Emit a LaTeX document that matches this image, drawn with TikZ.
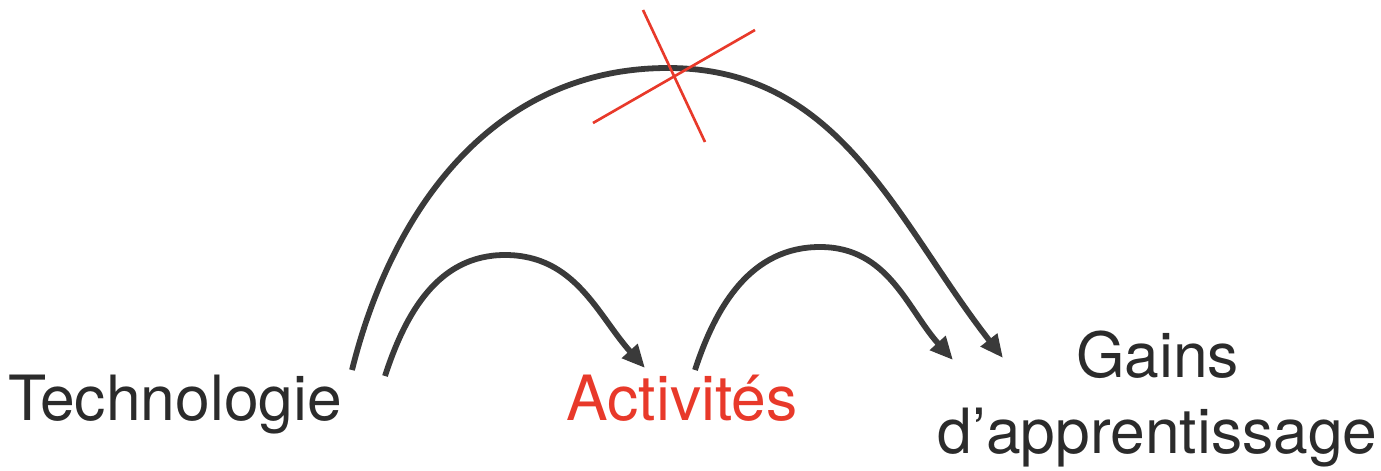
\documentclass[tikz,border=0pt]{standalone}
\usepackage{fontspec}
\setmainfont{TeX Gyre Heros}
\usepackage{tikz}
\usetikzlibrary{arrows.meta, positioning, calc}

\definecolor{arcgray}{HTML}{3A3A3A}
\definecolor{textgray}{HTML}{2B2B2B}
\definecolor{crossred}{HTML}{E8392A}

\begin{document}
\begin{tikzpicture}[
    label/.style={inner sep=0pt, anchor=base, text=textgray, font=\fontsize{35.5}{43}\selectfont},
    arc/.style={line width=3.3pt, draw=arcgray, -{Triangle[length=0.46cm, width=0.40cm]}},
    cross/.style={line width=1.5pt, draw=crossred}
  ]
    \useasboundingbox (0,0) rectangle (27.62,9.4);

    % texts
    \node[label] (tech) at (3.5,1.0) {Technologie};
    \node[label, text=crossred] (act) at (13.64,1.0) {Activités};
    \node[label, align=center] (gains) at (23.15,0.34) {Gains\\d’apprentissage};

    % arc end points
    \coordinate (bigstart) at (7.04,2.0);
    \coordinate (bigtop) at (13.36,8.04);
    \coordinate (bigend) at (20.06,2.24);
    \coordinate (onestart) at (7.70,1.88);
    \coordinate (onetop) at (10.10,4.30);
    \coordinate (oneend) at (12.90,2.04);
    \coordinate (twostart) at (13.90,2.0);
    \coordinate (twotop) at (16.40,4.46);
    \coordinate (twoend) at (19.06,2.2);

    % Arrows
    \draw[arc] (bigstart) to[out=76, in=180] (bigtop) to[out=0, in=128] (bigend);
    \draw[arc] (onestart) to[out=72, in=180] (onetop) to[out=0, in=132] (oneend);
    \draw[arc] (twostart) to[out=72, in=180] (twotop) to[out=0, in=132] (twoend);

    % red cross over the direct link
    \draw[cross] (11.86,6.94) -- (15.10,8.80);
    \draw[cross] (12.86,9.20) -- (14.10,6.56);
\end{tikzpicture}
\end{document}
